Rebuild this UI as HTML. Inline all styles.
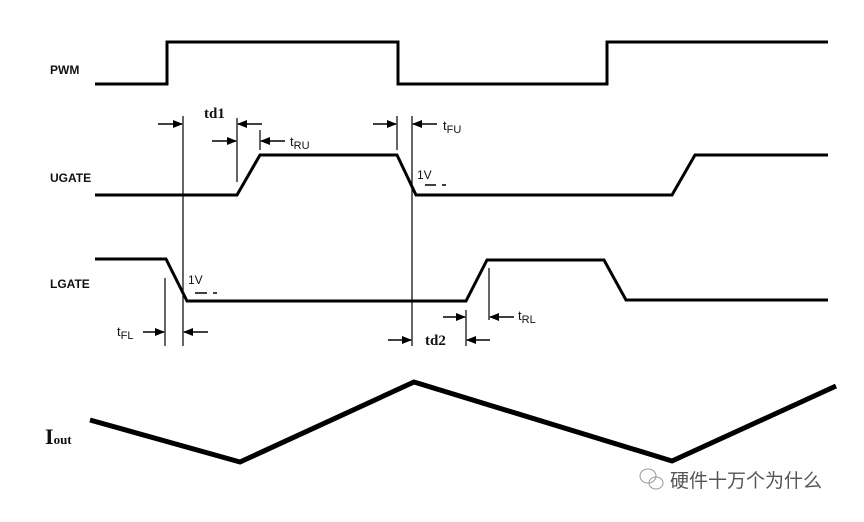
<!DOCTYPE html>
<html><head><meta charset="utf-8"><style>
body{margin:0;background:#fff;width:864px;height:517px;overflow:hidden}
svg text{font-family:"Liberation Sans",sans-serif;fill:#111}
</style></head><body>
<svg width="864" height="517" viewBox="0 0 864 517" xmlns="http://www.w3.org/2000/svg">
<defs><marker id="a" markerWidth="10" markerHeight="8" refX="9" refY="4" orient="auto" markerUnits="userSpaceOnUse"><path d="M0,0 L10,4 L0,8 z" fill="#000"/></marker></defs>
<g fill="none" stroke="#000" stroke-width="3">
<polyline points="95,84 167,84 167,42 398,42 398,84 607,84 607,42 828,42"/>
<polyline points="95,195 237,195 260,155 397,155 416,195 672,195 695,155 828,155"/>
<polyline points="95,259 166,259 187,301 466,301 487,260 604,260 626,300 828,300"/>
</g>
<polyline points="90,420 240,462 414,382 672,461 836,386" fill="none" stroke="#000" stroke-width="5"/>
<g stroke="#000" stroke-width="1.2">
<line x1="183" y1="116" x2="183" y2="346"/>
<line x1="237" y1="118" x2="237" y2="182"/>
<line x1="260" y1="130" x2="260" y2="150"/>
<line x1="397" y1="116" x2="397" y2="150"/>
<line x1="412" y1="116" x2="412" y2="346"/>
<line x1="165" y1="278" x2="165" y2="346"/>
<line x1="466" y1="310" x2="466" y2="346"/>
<line x1="489" y1="268" x2="489" y2="320"/>
</g>
<g stroke="#000" stroke-width="1.5" marker-end="url(#a)">
<line x1="158" y1="124" x2="182" y2="124"/>
<line x1="262" y1="124" x2="238" y2="124"/>
<line x1="212" y1="141" x2="236" y2="141"/>
<line x1="285" y1="141" x2="261" y2="141"/>
<line x1="373" y1="124" x2="396" y2="124"/>
<line x1="437" y1="124" x2="413" y2="124"/>
<line x1="143" y1="332" x2="164" y2="332"/>
<line x1="208" y1="332" x2="184" y2="332"/>
<line x1="388" y1="340" x2="411" y2="340"/>
<line x1="490" y1="340" x2="467" y2="340"/>
<line x1="443" y1="317" x2="465" y2="317"/>
<line x1="514" y1="317" x2="490" y2="317"/>
</g>
<g stroke="#000" stroke-width="1.5">
<line x1="425" y1="185" x2="436" y2="185"/><line x1="442" y1="185" x2="446" y2="185"/>
<line x1="195" y1="293" x2="207" y2="293"/><line x1="213" y1="293" x2="217" y2="293"/>
</g>
<text x="50" y="74" font-size="12" font-weight="bold">PWM</text>
<text x="50" y="182" font-size="12" font-weight="bold">UGATE</text>
<text x="50" y="288" font-size="12" font-weight="bold">LGATE</text>
<text x="417" y="179" font-size="12">1V</text>
<text x="188" y="284" font-size="12">1V</text>
<text x="290" y="146" font-size="13">t<tspan font-size="11" dy="3">RU</tspan></text>
<text x="443" y="130" font-size="13">t<tspan font-size="11" dy="3">FU</tspan></text>
<text x="117" y="336" font-size="13">t<tspan font-size="11" dy="3">FL</tspan></text>
<text x="518" y="320" font-size="13">t<tspan font-size="11" dy="3">RL</tspan></text>
<text x="204" y="118" font-size="15" font-weight="bold" font-family="Liberation Serif,serif" style="font-family:'Liberation Serif',serif">td1</text>
<text x="425" y="345" font-size="15" font-weight="bold" style="font-family:'Liberation Serif',serif">td2</text>
<text x="45" y="444" font-size="22" font-weight="bold" style="font-family:'Liberation Serif',serif">I<tspan font-size="13">out</tspan></text>
<g fill="none" stroke="#999" stroke-width="1"><ellipse cx="648" cy="476" rx="8" ry="7"/><ellipse cx="656" cy="483" rx="7" ry="6"/></g>
<text x="670" y="487" font-size="19" fill="#555" style="font-family:'Liberation Sans','Noto Sans CJK SC',sans-serif;fill:#555">硬件十万个为什么</text>
</svg>
</body></html>
